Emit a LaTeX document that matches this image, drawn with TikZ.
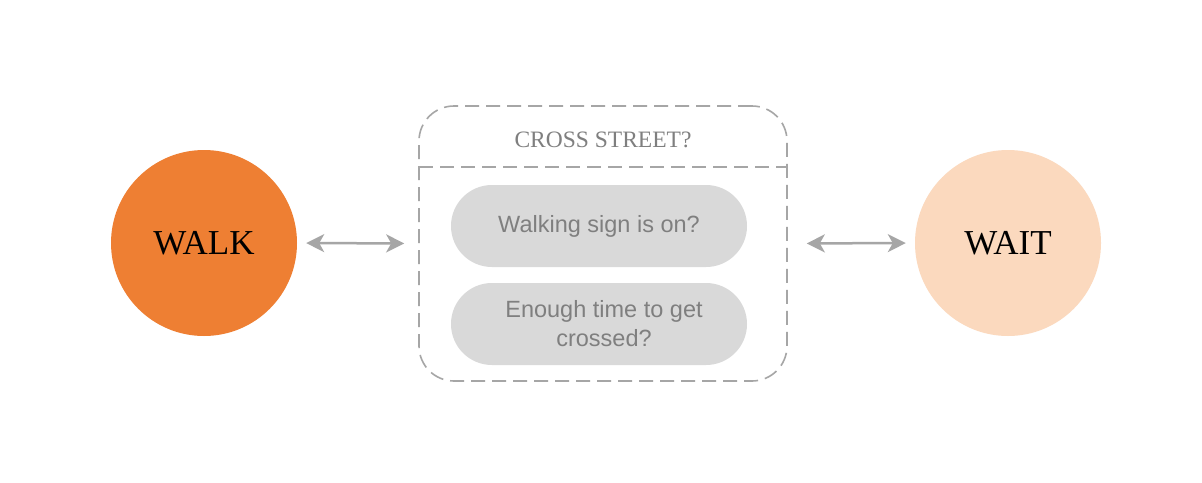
\documentclass[tikz,border=0pt]{standalone}
\usepackage{fontspec}
\setmainfont{Liberation Serif}
\setsansfont{Liberation Sans}
\usetikzlibrary{arrows.meta}
\definecolor{walkc}{HTML}{EE7F33}
\definecolor{waitc}{HTML}{FBD9BE}
\definecolor{linec}{HTML}{A6A6A6}
\definecolor{pillc}{HTML}{D9D9D9}
\definecolor{txtc}{HTML}{7F7F7F}
\tikzset{
  statecircle/.style={circle, minimum size=186pt, inner sep=0pt, font=\fontsize{35}{40}\selectfont},
  pill/.style={fill=pillc, rounded corners=41pt, minimum width=296pt, minimum height=82pt, inner sep=0pt, text=txtc, align=center, font=\sffamily\fontsize{23.5}{29}\selectfont},
  frame/.style={draw=linec, line width=1.6pt, dash pattern=on 14pt off 7pt, rounded corners=35pt},
  conn/.style={draw=linec, line width=2.5pt, {Stealth[length=18pt,width=18pt,inset=5pt]}-{Stealth[length=18pt,width=18pt,inset=5pt]}}
}
\begin{document}
\begin{tikzpicture}[x=1pt,y=-1pt]
\useasboundingbox (0,0) rectangle (1202,482);
\fill[white] (0,0) rectangle (1202,482);
\node[statecircle, fill=walkc] (walk) at (204,243) {WALK};
\node[statecircle, fill=waitc] (wait) at (1008,243) {WAIT};
\node[frame, minimum width=368pt, minimum height=275pt, inner sep=0pt] (box) at (603,243.5) {};
\coordinate (sepL) at (419,167);
\coordinate (sepR) at (787,167);
\draw[draw=linec, line width=1.6pt, dash pattern=on 14pt off 7pt] (sepL) -- (sepR);
\node[text=txtc, font=\fontsize{23.5}{26}\selectfont] (title) at (603,140) {CROSS STREET?};
\node[pill] (p1) at (599,226) {Walking sign is on?};
\node[pill] (p2) at (599,324) {\hspace*{10pt}Enough time to get\\\hspace*{10pt}crossed?};
\draw[conn, shorten <=9pt, shorten >=14pt] (walk.east) -- (box.west);
\draw[conn, shorten <=19pt, shorten >=9pt] (box.east) -- (wait.west);
\end{tikzpicture}
\end{document}
